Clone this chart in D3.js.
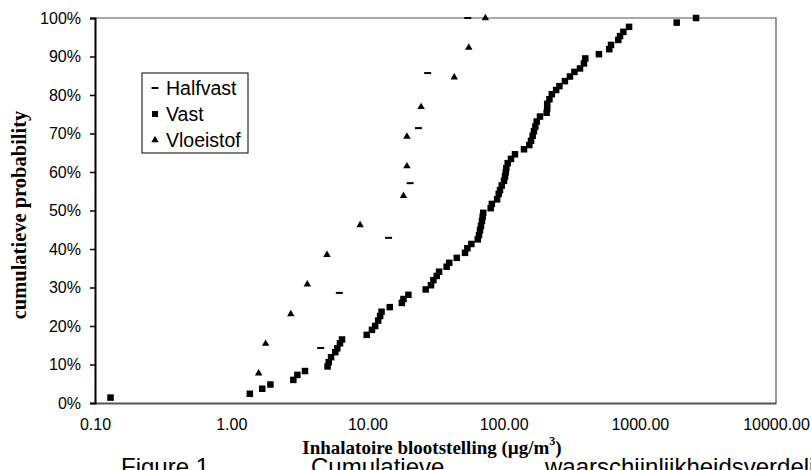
<!DOCTYPE html>
<html>
<head>
<meta charset="utf-8">
<script src="https://cdn.jsdelivr.net/npm/d3@7"></script>
<style>
  body { margin: 0; background: #fff; }
  svg { display: block; }
</style>
</head>
<body>
<div id="chart"></div>
<script>
// Vast (squares): exposure (ug/m3) and cumulative probability (%)
var vastX = [0.13, 1.37, 1.69, 1.94, 2.86, 3.06, 3.48, 5.1, 5.2, 5.41, 5.81, 6.01, 6.29, 6.51,
    9.88, 10.8, 11.4, 12.0, 12.4, 12.7, 14.6, 17.9, 18.4, 20.0, 26.8, 29.3, 30.5, 32.3, 33.6,
    38.2, 39.9, 45.3, 52.1, 54.2, 58.0, 64.6, 66.0, 67.1, 68.2, 69.4, 70.2, 70.9, 80.4, 82.0,
    89.6, 92.1, 94.1, 96.9, 100.7, 102.4, 103.7, 104.7, 107.2, 113.3, 121.2, 141.2, 154.5,
    159, 163.5, 167, 171, 175, 185, 207, 209, 209, 217, 226, 243, 257, 282, 307, 331, 364,
    389, 398, 501, 597, 615, 695, 716, 757, 834, 1866, 2588];
var vastY = [1.4, 2.4, 3.7, 4.8, 6.0, 7.3, 8.3, 9.5, 10.6, 11.9, 13.2, 14.2, 15.5, 16.5,
    17.7, 19.0, 20.0, 21.4, 22.6, 23.7, 24.9, 26.0, 27.0, 28.1, 29.5, 30.6, 31.9, 33.0, 34.1,
    35.4, 36.4, 37.7, 39.0, 40.2, 41.3, 42.5, 43.6, 44.9, 46.0, 47.3, 48.4, 49.4, 50.6, 51.7,
    52.9, 54.3, 55.3, 56.5, 57.7, 58.8, 59.9, 61.0, 62.3, 63.4, 64.6, 65.9, 67.0,
    68.1, 69.4, 70.6, 71.8, 73.1, 74.4, 75.4, 76.5, 77.7, 78.9, 80.2, 81.3, 82.3, 83.6, 84.8, 86.0, 86.9,
    88.2, 89.5, 90.6, 91.9, 93.0, 94.3, 95.3, 96.4, 97.7, 98.8, 100];

// Halfvast (dashes)
var halfvastX = [4.54, 6.22, 14.3, 20.6, 23.7, 27.7, 54.5];
var halfvastY = [14.3, 28.6, 42.9, 57.1, 71.4, 85.7, 100];

// Vloeistof (triangles)
var vloeistofX = [1.59, 1.79, 2.74, 3.62, 5.05, 8.84, 18.4, 19.5, 19.5, 24.8, 43.4, 55.5, 73.5];
var vloeistofY = [7.7, 15.4, 23.1, 30.8, 38.5, 46.2, 53.8, 61.5, 69.2, 76.9, 84.6, 92.3, 100];

var xTicks = [0.1, 1, 10, 100, 1000, 10000];
var yTicks = [0, 10, 20, 30, 40, 50, 60, 70, 80, 90, 100];

var W = 811, H = 470;
var margin = { top: 18, right: 35, bottom: 67, left: 95 };

var svg = d3.select("#chart").append("svg")
    .attr("width", W)
    .attr("height", H);

var x = d3.scaleLog().domain([0.1, 10000]).range([margin.left, W - margin.right]);
var y = d3.scaleLinear().domain([0, 100]).range([H - margin.bottom, margin.top]);

var sans = "'Liberation Sans', Arial, sans-serif";
var serif = "'Liberation Serif', 'Times New Roman', serif";

// plot frame (top + right)
svg.append("path")
    .attr("d", "M" + x(0.1) + "," + y(100) + "H" + x(10000) + "V" + y(0))
    .attr("fill", "none")
    .attr("stroke", "#555")
    .attr("stroke-width", 1.2);

// x axis
var xAxis = svg.append("g")
    .attr("transform", "translate(0," + y(0) + ")")
    .call(d3.axisBottom(x).tickValues(xTicks).tickFormat(d3.format(".2f")).tickSize(0).tickPadding(16));
xAxis.select(".domain").attr("stroke", "#555").attr("stroke-width", 2);
xAxis.selectAll("text").attr("font-family", sans).attr("font-size", 16).attr("fill", "#000");

// y axis
var yAxis = svg.append("g")
    .attr("transform", "translate(" + x(0.1) + ",0)")
    .call(d3.axisLeft(y).tickValues(yTicks).tickFormat(function (d) { return d + "%"; }).tickSize(5).tickPadding(9));
yAxis.select(".domain").attr("stroke", "#000").attr("stroke-width", 2);
yAxis.selectAll(".tick line").attr("stroke", "#000").attr("stroke-width", 1.5);
yAxis.selectAll("text").attr("font-family", sans).attr("font-size", 16).attr("fill", "#000");

// markers
function pts(xs, ys) { return xs.map(function (v, i) { return { x: v, y: ys[i] }; }); }

svg.append("g").selectAll("rect.vast")
    .data(pts(vastX, vastY))
    .enter().append("rect")
    .attr("x", function (d) { return x(d.x) - 3.25; })
    .attr("y", function (d) { return y(d.y) - 3.25; })
    .attr("width", 6.5).attr("height", 6.5)
    .attr("fill", "#000");

svg.append("g").selectAll("rect.half")
    .data(pts(halfvastX, halfvastY))
    .enter().append("rect")
    .attr("x", function (d) { return x(d.x) - 3.5; })
    .attr("y", function (d) { return y(d.y) - 1; })
    .attr("width", 7).attr("height", 2)
    .attr("fill", "#000");

var tri = d3.symbol().type(d3.symbolTriangle).size(24);
svg.append("g").selectAll("path.vl")
    .data(pts(vloeistofX, vloeistofY))
    .enter().append("path")
    .attr("transform", function (d) { return "translate(" + x(d.x) + "," + y(d.y) + ")"; })
    .attr("d", tri)
    .attr("fill", "#000");

// legend
var lg = svg.append("g").attr("transform", "translate(142,73)");
lg.append("rect").attr("width", 106).attr("height", 80)
    .attr("fill", "#fff").attr("stroke", "#000").attr("stroke-width", 1);
var names = ["Halfvast", "Vast", "Vloeistof"];
names.forEach(function (n, i) {
    var cy = 15 + i * 26;
    if (i === 0) lg.append("rect").attr("x", 9.5).attr("y", cy - 1).attr("width", 7).attr("height", 2);
    if (i === 1) lg.append("rect").attr("x", 10).attr("y", cy - 3).attr("width", 6).attr("height", 6);
    if (i === 2) lg.append("path").attr("transform", "translate(13," + cy + ")").attr("d", tri);
    lg.append("text").attr("x", 24).attr("y", cy + 7)
        .attr("font-family", sans).attr("font-size", 19.5).text(n);
});

// axis titles
svg.append("text")
    .attr("transform", "translate(26,215) rotate(-90)")
    .attr("text-anchor", "middle")
    .attr("font-family", serif).attr("font-weight", "bold").attr("font-size", 20.5)
    .text("cumulatieve probability");

var xt = svg.append("text")
    .attr("x", 432).attr("y", 454)
    .attr("text-anchor", "middle")
    .attr("font-family", serif).attr("font-weight", "bold").attr("font-size", 19);
xt.append("tspan").text("Inhalatoire blootstelling (\u00b5g/m");
xt.append("tspan").attr("font-size", 12).attr("dy", -9).text("3");
xt.append("tspan").attr("dy", 9).text(")");

// figure caption (cut off at bottom edge, as in the source)
var cap = svg.append("g").attr("font-family", sans).attr("font-size", 24);
cap.append("text").attr("x", 121).attr("y", 475).text("Figure 1");
cap.append("text").attr("x", 311).attr("y", 475).text("Cumulatieve");
cap.append("text").attr("x", 545).attr("y", 475).text("waarschijnlijkheidsverdeling");
</script>
</body>
</html>
